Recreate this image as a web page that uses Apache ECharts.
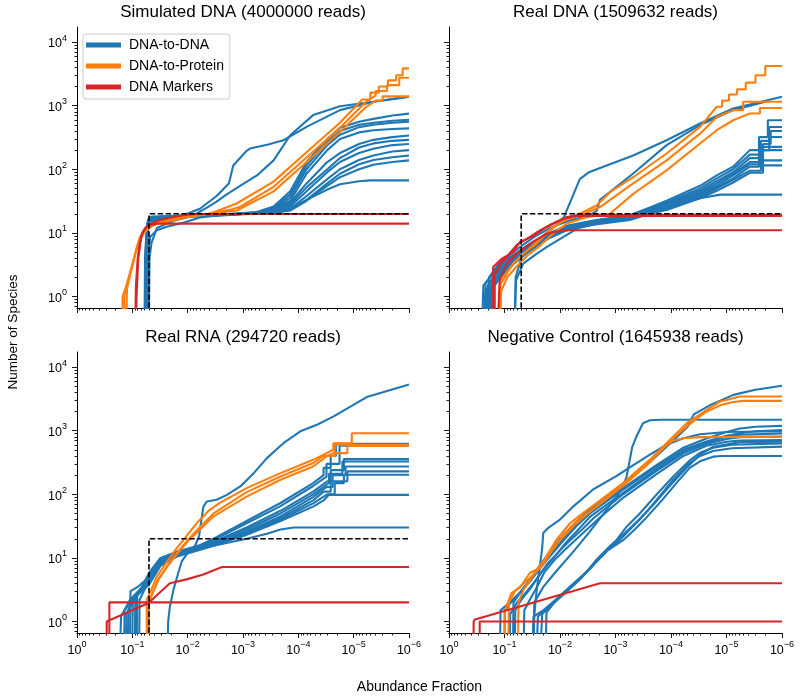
<!DOCTYPE html>
<html><head><meta charset="utf-8">
<script src="https://cdn.jsdelivr.net/npm/echarts@6/dist/echarts.min.js"></script>
<style>html,body{margin:0;padding:0;background:#fff}#c{width:800px;height:697px}</style>
</head><body><div id="c"></div>
<script>
// ---------------- DATA (abundance fraction, number of species) ----------------
const titles = ['Simulated DNA (4000000 reads)', 'Real DNA (1509632 reads)', 'Real RNA (294720 reads)', 'Negative Control (1645938 reads)'];
const xTickExp = [0, -1, -2, -3, -4, -5, -6];
const yTickExp = [0, 1, 2, 3, 4];
const seriesNames = ['DNA-to-DNA', 'DNA-to-Protein', 'DNA Markers'];

const truth = [[0.05,0.5],[0.05,20],[1e-6,20]];

// Simulated DNA
const simBlue = [
 [[0.058,0.5],[0.057,5],[0.054,12],[0.049,15],[0.03,17],[0.012,19],[0.006,24],[0.003,38],[0.0018,60],[0.0015,115],[8.6e-4,195],[7.5e-4,212],[3.5e-4,245],[1.86e-4,286],[7.1e-5,463],[1.77e-5,850],[4.4e-6,1150],[1e-6,1380]],
 [[0.06,0.5],[0.059,4],[0.056,9],[0.051,12],[0.04,14],[0.025,16.5],[0.012,18.5],[0.007,20],[0.0045,25],[0.003,31],[0.002,40],[0.00113,55],[5.6e-4,80],[2.8e-4,138],[1.4e-4,343],[5.4e-5,710],[1.77e-5,980],[4.4e-6,1150],[1e-6,1380]],
 [[0.056,0.5],[0.055,8],[0.052,16],[0.045,17.5],[0.01,18.5],[0.002,19.5],[6e-4,21],[2.8e-4,26],[1.4e-4,45],[7.1e-5,130],[3e-5,300],[1.77e-5,450],[8e-6,560],[4.4e-6,620],[2e-6,700],[1e-6,750]],
 [[0.057,0.5],[0.056,7],[0.053,15],[0.046,17],[0.01,18.3],[0.002,19.3],[6e-4,20.5],[2.8e-4,25],[1.4e-4,40],[7.1e-5,115],[3e-5,270],[1.77e-5,400],[8e-6,500],[4.4e-6,540],[2e-6,580],[1e-6,600]],
 [[0.058,0.5],[0.057,6],[0.054,14],[0.047,16.5],[0.01,18],[0.002,19],[6e-4,20.5],[2.8e-4,24],[1.4e-4,36],[7.1e-5,100],[3e-5,240],[1.77e-5,350],[8e-6,460],[4.4e-6,500],[2e-6,540],[1e-6,560]],
 [[0.055,0.5],[0.054,9],[0.051,16.5],[0.045,18],[0.01,19],[0.002,19.8],[6e-4,21],[2.8e-4,23.5],[1.4e-4,32],[7.1e-5,85],[3e-5,200],[1.77e-5,300],[8e-6,380],[4.4e-6,410],[2e-6,430],[1e-6,440]],
 [[0.056,0.5],[0.055,7],[0.052,15],[0.046,17],[0.01,18.5],[0.002,19.5],[6e-4,20.5],[2.8e-4,23],[1.4e-4,30],[7.1e-5,60],[3e-5,130],[1.77e-5,180],[8e-6,250],[4.4e-6,290],[2e-6,320],[1e-6,340]],
 [[0.057,0.5],[0.056,6],[0.053,14],[0.047,16],[0.01,18],[0.002,19.2],[6e-4,20],[2.8e-4,22],[1.4e-4,28],[7.1e-5,52],[3e-5,100],[1.77e-5,150],[8e-6,220],[4.4e-6,255],[2e-6,280],[1e-6,290]],
 [[0.055,0.5],[0.054,8],[0.051,15.5],[0.045,17.5],[0.01,18.8],[0.002,19.6],[6e-4,20.5],[2.8e-4,21.5],[1.4e-4,26],[7.1e-5,45],[3e-5,90],[1.77e-5,130],[8e-6,180],[4.4e-6,210],[2e-6,240],[1e-6,250]],
 [[0.058,0.5],[0.057,5],[0.054,12],[0.048,15],[0.025,17],[0.008,18.5],[0.002,19.5],[6e-4,20.3],[2.8e-4,21],[1.4e-4,24],[7.1e-5,38],[3e-5,70],[1.77e-5,100],[8e-6,140],[4.4e-6,165],[2e-6,190],[1e-6,200]],
 [[0.05,0.5],[0.049,4],[0.045,7],[0.036,12],[0.018,15.5],[0.008,18.5],[0.002,19.5],[6e-4,20.2],[2.8e-4,21],[1.4e-4,23],[7.1e-5,33],[3e-5,60],[1.77e-5,85],[8e-6,120],[4.4e-6,140],[2e-6,155],[1e-6,165]],
 [[0.052,0.5],[0.051,4],[0.048,8.6],[0.036,11],[0.024,12.5],[0.012,14.5],[0.006,17.5],[0.002,19.5],[6e-4,20],[2.8e-4,20.5],[1.4e-4,22.5],[7.1e-5,32],[3e-5,55],[1.77e-5,75],[8e-6,100],[4.4e-6,118],[2e-6,130],[1e-6,138]],
 [[0.054,0.5],[0.053,10],[0.05,16],[0.044,17.5],[0.01,18.7],[0.002,19.5],[6e-4,20.5],[2.8e-4,21],[1.4e-4,24],[7.1e-5,33],[3e-5,48],[1.77e-5,58],[8e-6,65],[5e-6,67],[1e-6,67]]
];
const simOrange = [
 [[0.15,0.5],[0.15,1],[0.125,1.6],[0.1,3],[0.085,5.5],[0.073,8.6],[0.06,11],[0.048,12.5],[0.035,14],[0.024,15],[0.0104,17.7],[0.004,20],[0.0013,29],[2.8e-4,64],[7.1e-5,185],[1.77e-5,540],[7e-6,1250],[5e-6,1250],[5e-6,1600],[3.5e-6,1600],[3.5e-6,2000],[2.4e-6,2000],[2.4e-6,2500],[1.7e-6,2500],[1.7e-6,3000],[1.3e-6,3000],[1.3e-6,3850],[1e-6,3850]],
 [[0.14,0.5],[0.14,1],[0.12,1.8],[0.097,3.5],[0.08,6.5],[0.068,9.5],[0.055,11.5],[0.04,13.5],[0.025,15.5],[0.012,18],[0.005,19.5],[0.0017,23],[0.0011,26],[2.8e-4,53],[7.1e-5,153],[1.77e-5,450],[6e-6,1150],[4e-6,1450],[4e-6,1700],[2.5e-6,1700],[2.5e-6,2100],[1.5e-6,2100],[1.5e-6,2750],[1e-6,2750]],
 [[0.128,0.5],[0.125,1.3],[0.11,2.2],[0.09,4.5],[0.075,7.5],[0.062,10],[0.05,12],[0.035,14.5],[0.02,17],[0.009,19],[0.004,20],[0.0013,22.5],[2.8e-4,45],[7.1e-5,130],[1.77e-5,385],[6e-6,950],[4e-6,1200],[3e-6,1200],[3e-6,1400],[1e-6,1400]]
];
const simRed = [
 [[0.085,0.5],[0.084,1],[0.078,4],[0.07,8],[0.064,10.5],[0.055,12.5],[0.045,13.5],[0.035,14],[1e-6,14]],
 [[0.088,0.5],[0.086,1.5],[0.08,4],[0.073,7],[0.066,10],[0.058,12],[0.05,13.5],[0.035,15.5],[0.02,17.5],[0.012,19],[0.007,19.8],[1e-6,19.8]]
];

// Real DNA
const dnaBlue = [
 [[0.065,0.5],[0.063,2],[0.05,4],[0.035,6],[0.02,9],[0.012,13],[0.0085,17.7],[0.0066,30],[0.0044,70],[0.003,90],[0.0019,105],[4.8e-4,165],[1.2e-4,286],[3e-5,525],[7.6e-6,900],[1e-6,1380]],
 [[0.2,0.5],[0.19,2],[0.12,3.5],[0.06,5.5],[0.03,8.5],[0.015,12],[0.007,15.5],[0.003,19],[0.0022,22],[0.0019,33],[4.8e-4,86],[1.2e-4,240],[3e-5,495],[7.6e-6,850],[2e-6,1150],[1.8e-6,1150]],
 [[0.25,0.5],[0.24,1.5],[0.16,2.3],[0.092,3.8],[0.046,5.5],[0.0175,9],[0.0076,12.5],[0.0022,15.5],[5.5e-4,19],[2.4e-4,25],[1.2e-4,32],[3e-5,55],[1.5e-5,80],[7.6e-6,110],[3.8e-6,200],[2.6e-6,200],[2.6e-6,320],[1.8e-6,320],[1.8e-6,590],[1e-6,590]],
 [[0.23,0.5],[0.22,1.6],[0.15,2.5],[0.085,4],[0.045,5.8],[0.0175,9.5],[0.0076,13],[0.0022,16],[5.5e-4,19],[2.4e-4,24],[1.2e-4,30],[3e-5,50],[1.5e-5,72],[7.6e-6,100],[3.8e-6,170],[2.4e-6,170],[2.4e-6,280],[1.7e-6,280],[1.7e-6,463],[1e-6,463]],
 [[0.21,0.5],[0.2,1.5],[0.14,2.4],[0.08,3.8],[0.043,5.5],[0.018,9],[0.008,12.5],[0.0025,15.5],[6e-4,18.5],[2.4e-4,23],[1.2e-4,29],[3e-5,46],[1.5e-5,65],[7.6e-6,90],[3.8e-6,150],[2.2e-6,150],[2.2e-6,250],[1.6e-6,250],[1.6e-6,400],[1e-6,400]],
 [[0.19,0.5],[0.185,1.4],[0.13,2.2],[0.075,3.6],[0.04,5.2],[0.017,8.8],[0.0075,12],[0.0022,15],[5.5e-4,18],[2.4e-4,22.5],[1.2e-4,28],[3e-5,43],[1.5e-5,60],[7.6e-6,85],[3.8e-6,130],[2.4e-6,130],[2.4e-6,200],[1.7e-6,200],[1.7e-6,322],[1e-6,322]],
 [[0.18,0.5],[0.175,1.3],[0.125,2.1],[0.07,3.5],[0.038,5],[0.016,8.3],[0.007,11.5],[0.002,14.5],[5.5e-4,17.5],[2.4e-4,22],[1.2e-4,26],[3e-5,41],[1.5e-5,55],[7.6e-6,80],[3.8e-6,120],[2.2e-6,120],[2.2e-6,225],[1e-6,225]],
 [[0.2,0.5],[0.19,1.2],[0.14,2],[0.08,3.3],[0.045,5],[0.018,8],[0.008,11],[0.0022,14],[5.5e-4,17],[2.4e-4,21],[1.2e-4,25],[3e-5,39],[1.5e-5,52],[7.6e-6,72],[3.8e-6,110],[2.6e-6,110],[2.6e-6,200],[1e-6,200]],
 [[0.22,0.5],[0.21,1.3],[0.15,2.1],[0.09,3.4],[0.05,5],[0.02,8],[0.009,11],[0.0025,14],[5.5e-4,16.5],[2.4e-4,20.5],[1.2e-4,24],[3e-5,37],[1.5e-5,50],[7.6e-6,68],[3.8e-6,95],[2.4e-6,95],[2.4e-6,138],[1e-6,138]],
 [[0.17,0.5],[0.165,1.3],[0.12,2],[0.07,3.2],[0.04,4.8],[0.018,7.8],[0.008,10.8],[0.0025,13.5],[5.5e-4,16],[2.4e-4,20],[1.2e-4,23],[3e-5,35],[1.5e-5,46],[7.6e-6,62],[3.8e-6,88],[2.2e-6,88],[2.2e-6,115],[1e-6,115]],
 [[0.065,0.5],[0.062,1.8],[0.046,3.3],[0.0265,4.7],[0.0175,6],[0.0088,8.6],[0.0044,12.3],[0.0015,15],[5e-4,17.5],[2.4e-4,21],[1.2e-4,26],[3e-5,35],[1.3e-5,40],[1e-6,40]]
];
const dnaOrange = [
 [[0.125,0.5],[0.122,1.5],[0.1,2],[0.07,3.3],[0.046,4.7],[0.0265,6.8],[0.0153,11],[0.0088,15.7],[0.0044,20],[0.0022,27],[0.0012,45],[4.8e-4,75],[1.2e-4,177],[3e-5,463],[1.5e-5,960],[1.2e-5,960],[1.2e-5,1200],[9e-6,1200],[9e-6,1500],[6.5e-6,1500],[6.5e-6,1800],[4.5e-6,1800],[4.5e-6,2300],[3e-6,2300],[3e-6,3000],[2e-6,3000],[2e-6,4200],[1e-6,4200]],
 [[0.12,0.5],[0.118,1.6],[0.095,2.3],[0.065,3.5],[0.042,5],[0.025,7.5],[0.015,11.5],[0.008,16],[0.0042,19],[0.0019,25.5],[4.8e-4,60],[1.2e-4,138],[3e-5,363],[1.5e-5,665],[7.6e-6,850],[5e-6,850],[5e-6,1150],[1e-6,1150]],
 [[0.118,0.5],[0.115,1.2],[0.09,2],[0.06,3],[0.04,4.3],[0.022,6.5],[0.013,10],[0.0075,14],[0.0035,17.5],[0.00126,20],[4.8e-4,41],[1.2e-4,96],[3e-5,254],[1.5e-5,411],[7.6e-6,590],[3.8e-6,754],[2.5e-6,754],[2.5e-6,920],[1e-6,920]]
];
const dnaRed = [
 [[0.16,0.5],[0.16,2.9],[0.113,3.9],[0.07,5],[0.053,7.2],[0.033,8.6],[0.0175,12.3],[0.0115,14.8],[0.0076,17.8],[0.0044,19.3],[1e-6,19.3]],
 [[0.15,0.5],[0.15,2.2],[0.12,3.2],[0.085,4.5],[0.06,6.5],[0.04,8],[0.025,10.5],[0.015,13.5],[0.009,16.5],[0.005,18.5],[1e-6,18.5]],
 [[0.13,0.5],[0.122,1.8],[0.092,3.3],[0.061,4.7],[0.035,6.8],[0.0175,9.7],[0.0088,11],[1e-6,11]]
];

// Real RNA
const rnaBlue = [
 [[0.023,0.5],[0.0225,1],[0.021,1.7],[0.018,3.2],[0.0148,5.8],[0.0128,8.8],[0.01,12],[0.0075,15],[0.0062,22],[0.006,28],[0.0052,64],[0.0045,77],[0.003,82],[0.00195,98],[0.00112,133],[6.4e-4,215],[3.7e-4,370],[1.84e-4,640],[9.2e-5,975],[4.6e-5,1240],[2.3e-5,1675],[5.8e-6,3370],[1e-6,5300]],
 [[0.1,0.5],[0.098,2],[0.075,3],[0.05,5.5],[0.031,9.5],[0.0156,12.5],[0.0059,16],[0.0034,20],[8.6e-4,38],[2.1e-4,73],[5.4e-5,150],[3.5e-5,200],[3.5e-5,260],[2.6e-5,260],[2.6e-5,400],[2.1e-5,400],[2.1e-5,620],[1e-6,620]],
 [[0.12,0.5],[0.118,1.5],[0.085,2.5],[0.05,5],[0.031,9],[0.0156,12],[0.0059,15.5],[0.0034,19],[8.6e-4,35],[2.1e-4,65],[5.4e-5,135],[3.1e-5,190],[3.1e-5,300],[1.8e-5,300],[1.8e-5,580],[1e-6,580]],
 [[0.09,0.5],[0.088,2.5],[0.07,3.2],[0.05,5.8],[0.031,10],[0.0156,12.5],[0.0059,15],[0.0034,18],[8.6e-4,30],[2.1e-4,55],[5.4e-5,110],[3e-5,160],[2.6e-5,160],[2.6e-5,240],[1.5e-5,240],[1.5e-5,357],[1e-6,357]],
 [[0.165,0.5],[0.16,1.2],[0.11,2.2],[0.05,4.5],[0.031,8.5],[0.0156,11.5],[0.0059,14.5],[0.0034,17],[8.6e-4,28],[2.1e-4,50],[5.4e-5,100],[2.8e-5,150],[2.8e-5,210],[1.6e-5,210],[1.6e-5,328],[1e-6,328]],
 [[0.13,0.5],[0.128,1.3],[0.09,2.6],[0.05,4],[0.031,8],[0.0156,11],[0.0059,14],[0.0034,16.5],[8.6e-4,26],[2.1e-4,45],[5.4e-5,90],[3.1e-5,130],[2.4e-5,130],[2.4e-5,200],[1.4e-5,200],[1.4e-5,274],[1e-6,274]],
 [[0.11,0.5],[0.108,3],[0.08,3.5],[0.05,5],[0.031,9],[0.0156,11.5],[0.0059,14],[0.0034,16],[8.6e-4,25],[2.1e-4,42],[5.4e-5,80],[3.5e-5,110],[2.6e-5,110],[2.6e-5,160],[1.3e-5,160],[1.3e-5,229],[1e-6,229]],
 [[0.14,0.5],[0.138,1.5],[0.1,2.2],[0.05,3.8],[0.031,7.5],[0.0156,10.5],[0.0059,13.5],[0.0034,15.5],[8.6e-4,24],[2.1e-4,40],[5.4e-5,72],[3e-5,100],[2.2e-5,100],[2.2e-5,150],[1.5e-5,150],[1.5e-5,203],[1e-6,203]],
 [[0.083,0.5],[0.082,2.5],[0.065,3.5],[0.05,5.5],[0.031,9.5],[0.0156,12],[0.0059,14.5],[0.0034,16],[8.6e-4,23],[2.1e-4,38],[5.4e-5,64],[3.5e-5,80],[2.8e-5,98],[1e-6,98]],
 [[0.075,0.5],[0.074,2.2],[0.06,3.2],[0.05,4.8],[0.031,8.5],[0.0156,11.5],[0.0059,14],[0.0034,15.5],[8.6e-4,20],[3.7e-4,24],[2.1e-4,28],[1.2e-4,30],[1e-6,30]]
];
const rnaOrange = [
 [[0.055,0.5],[0.055,2.2],[0.045,3.2],[0.036,5.1],[0.024,8.5],[0.016,14],[0.0105,22],[0.0069,35],[0.004,57],[0.0025,75],[8.6e-4,125],[2.1e-4,215],[5.4e-5,348],[2.33e-5,500],[2.33e-5,635],[1.08e-5,635],[1.08e-5,910],[1e-6,910]],
 [[0.052,0.5],[0.052,1.8],[0.043,2.8],[0.034,4.5],[0.023,7.5],[0.015,12],[0.0095,19],[0.0055,30],[0.0034,45],[8.6e-4,92],[2.1e-4,169],[5.4e-5,273],[3e-5,400],[2.33e-5,443],[1.3e-5,443],[1.3e-5,575],[1e-6,575]],
 [[0.05,0.5],[0.05,2],[0.042,3],[0.033,4.8],[0.022,8],[0.0145,13],[0.009,21],[0.0055,33],[0.0034,50],[8.6e-4,108],[2.1e-4,190],[5.4e-5,310],[3.5e-5,400],[2.2e-5,400],[2.2e-5,600],[1e-6,600]]
];
const rnaRed = [
 [[0.26,0.5],[0.26,2],[1e-6,2]],
 [[0.29,0.5],[0.29,1],[0.051,1.96],[0.021,4],[0.0105,4.6],[0.0052,5.5],[0.0024,7.2],[1e-6,7.2]]
];

// Negative control
const ncBlue = [
 [[0.07,0.5],[0.069,2],[0.05,3],[0.035,4.5],[0.023,7],[0.015,11],[0.01,17],[0.006,30],[0.003,55],[7.3e-4,140],[2.4e-4,320],[9.1e-5,700],[5e-5,1150],[3.9e-5,1800],[2e-5,2500],[7.5e-6,3650],[3e-6,4400],[1e-6,5070]],
 [[0.03,0.5],[0.029,2],[0.02,3.5],[0.012,6],[0.006,12],[0.003,25],[0.0015,55],[9e-4,100],[7e-4,150],[6.3e-4,190],[5.7e-4,300],[5e-4,550],[4.2e-4,807],[3.2e-4,1310],[2.4e-4,1460],[1.5e-4,1480],[1e-6,1480]],
 [[0.12,0.5],[0.118,1.5],[0.08,2],[0.053,2.8],[0.035,4.5],[0.025,7],[0.017,11],[0.01,20],[0.005,38],[0.0029,57],[7.3e-4,125],[1.8e-4,290],[6e-5,540],[2.3e-5,750],[1e-5,950],[5.7e-6,1080],[3e-6,1150],[1e-6,1190]],
 [[0.1,0.5],[0.099,1.5],[0.07,2.2],[0.05,3],[0.033,4.5],[0.024,6.5],[0.016,10],[0.009,18],[0.005,32],[0.0029,50],[7.3e-4,118],[1.8e-4,273],[6e-5,500],[2.3e-5,675],[1e-5,830],[5.7e-6,910],[3e-6,980],[1e-6,1025]],
 [[0.08,0.5],[0.079,1.3],[0.06,2],[0.045,2.6],[0.03,4],[0.02,6.5],[0.013,10],[0.008,17],[0.0045,29],[0.0029,44],[7.3e-4,105],[1.8e-4,250],[6e-5,470],[2.3e-5,650],[1e-5,800],[5.7e-6,860],[1e-6,905]],
 [[0.065,0.5],[0.064,1.5],[0.05,2.2],[0.035,3.2],[0.025,5],[0.017,8],[0.011,12],[0.007,18],[0.004,28],[0.0025,42],[7.3e-4,100],[1.8e-4,235],[6e-5,440],[2.3e-5,620],[1e-5,740],[5.7e-6,790],[1e-6,805]],
 [[0.045,0.5],[0.044,1.5],[0.035,2.2],[0.026,3.5],[0.019,6],[0.013,9],[0.0085,13],[0.005,20],[0.003,30],[0.0018,45],[7.3e-4,88],[1.8e-4,210],[6e-5,400],[2.3e-5,580],[1e-5,670],[5.7e-6,700],[1e-6,713]],
 [[0.03,0.5],[0.029,1.3],[0.027,2.5],[0.025,4.5],[0.023,7.4],[0.021,14],[0.02,24.7],[0.016,30],[0.01,40],[0.0058,64],[0.0025,120],[0.001,190],[5e-4,280],[2.4e-4,420],[1.2e-4,600],[6e-5,760],[3e-5,880],[1e-5,950],[1e-6,980]],
 [[0.031,0.5],[0.03,1.2],[0.02,1.5],[0.012,2.2],[0.006,3.8],[0.003,6.5],[0.0018,11],[9.6e-4,19],[6.3e-4,31],[3.65e-4,50],[1.8e-4,100],[9.1e-5,190],[4.6e-5,340],[3e-5,450],[1.74e-5,540],[8e-6,600],[1e-6,630]],
 [[0.026,0.5],[0.025,1.2],[0.017,1.6],[0.0105,2.4],[0.0055,4],[0.0028,7],[0.0016,12],[8.5e-4,19],[5.5e-4,28],[3.65e-4,40],[1.8e-4,82],[9.1e-5,169],[4.6e-5,310],[3e-5,400],[1.74e-5,480],[8e-6,530],[1e-6,560]],
 [[0.022,0.5],[0.021,1.3],[0.015,1.8],[0.009,2.6],[0.0045,4.5],[0.0024,8],[0.0014,13],[7.3e-4,19],[4.5e-4,28],[3e-4,40],[1.5e-4,78],[8e-5,150],[4.6e-5,260],[3e-5,330],[1.74e-5,390],[1.2e-5,400],[1e-6,400]],
 [[0.018,0.5],[0.0175,1.4],[0.0125,2],[0.0075,3],[0.004,5],[0.0022,9.4],[0.0012,16],[7e-4,24],[4e-4,38],[2.2e-4,65],[1.1e-4,130],[5.5e-5,250],[3e-5,420],[1.74e-5,560],[5.7e-6,660],[1e-6,670]]
];
const ncOrange = [
 [[0.099,0.5],[0.098,1.5],[0.075,2.8],[0.053,3.4],[0.035,5.8],[0.023,7],[0.0175,10.6],[0.0116,19.3],[0.0066,35],[0.0038,51],[0.0022,73],[7.3e-4,150],[2.4e-4,350],[9.1e-5,807],[5.2e-5,1310],[2.3e-5,2100],[1.3e-5,2870],[5.7e-6,3440],[1e-6,3440]],
 [[0.085,0.5],[0.083,2],[0.065,3],[0.045,4],[0.03,5.5],[0.02,8],[0.014,13],[0.009,22],[0.005,38],[0.0028,55],[7.3e-4,140],[2.4e-4,330],[9.1e-5,760],[5e-5,1200],[2.5e-5,1900],[1.3e-5,2500],[8e-6,2800],[5e-6,2940],[1e-6,2940]],
 [[0.057,0.5],[0.056,2],[0.045,3.2],[0.032,5],[0.022,8],[0.015,12],[0.01,19],[0.0055,33],[0.003,52],[7.3e-4,135],[2.4e-4,320],[1.3e-4,560],[9e-5,700],[6e-5,760],[3e-5,790],[1e-6,800]]
];
const ncRed = [
 [[0.28,0.5],[0.28,1],[1e-6,1]],
 [[0.36,0.5],[0.36,1],[0.34,1.08],[0.0019,4],[1e-6,4]]
];

const panelData = [
  {blue: simBlue, orange: simOrange, red: simRed, truth: truth},
  {blue: dnaBlue, orange: dnaOrange, red: dnaRed, truth: truth},
  {blue: rnaBlue, orange: rnaOrange, red: rnaRed, truth: truth},
  {blue: ncBlue, orange: ncOrange, red: ncRed, truth: null}
];

// ---------------- LAYOUT / STYLE ----------------
const F = "'Liberation Sans', Arial, Helvetica, sans-serif";
const colors = ['#1f77b4', '#ff7f0e', '#d62728'];
const grids = [
  {left: 77, top: 27, width: 332, height: 281},
  {left: 449, top: 27, width: 333, height: 281},
  {left: 77, top: 352, width: 332, height: 281},
  {left: 449, top: 352, width: 333, height: 281}
];
const Y_MIN = -0.18, Y_MAX = 4.236;

const minorX = [], minorY = [];
for (let e = -6; e <= -1; e++) for (let k = 2; k <= 9; k++) minorX.push(e + Math.log10(k));
for (let e = -1; e <= 4; e++) for (let k = 2; k <= 9; k++) { const v = e + Math.log10(k); if (v >= Y_MIN && v <= Y_MAX) minorY.push(v); }

function expLabel(v) { const e = Math.round(v); return '{b|10}{s|' + (e < 0 ? '\u2212' + (-e) : e) + '}'; }
const rich = {
  b: {fontSize: 12.5, fontFamily: F, color: '#000', lineHeight: 17, verticalAlign: 'bottom'},
  s: {fontSize: 9, fontFamily: F, color: '#000', lineHeight: 10, verticalAlign: 'top'}
};
const tickStyle = {color: '#000', width: 0.9};

const xAxes = [], yAxes = [], series = [];
grids.forEach((g, gi) => {
  const bottomRow = gi >= 2, leftCol = gi % 2 === 0;
  xAxes.push({type: 'value', gridIndex: gi, position: 'bottom', min: -6, max: 0, inverse: true,
    axisLine: {show: true, onZero: false, lineStyle: {color: '#000', width: 1}},
    axisTick: {show: true, length: 5, customValues: xTickExp, lineStyle: tickStyle},
    axisLabel: {show: bottomRow, customValues: xTickExp, formatter: expLabel, rich: rich, margin: 7},
    splitLine: {show: false}});
  xAxes.push({type: 'value', gridIndex: gi, position: 'bottom', min: -6, max: 0, inverse: true,
    axisLine: {show: false, onZero: false},
    axisTick: {show: true, length: 2.5, customValues: minorX, lineStyle: tickStyle},
    axisLabel: {show: false}, splitLine: {show: false}});
  yAxes.push({type: 'value', gridIndex: gi, position: 'left', min: Y_MIN, max: Y_MAX,
    axisLine: {show: true, onZero: false, lineStyle: {color: '#000', width: 1}},
    axisTick: {show: true, length: 5, customValues: yTickExp, lineStyle: tickStyle},
    axisLabel: {show: leftCol, customValues: yTickExp, formatter: expLabel, rich: rich, margin: 10},
    splitLine: {show: false}});
  yAxes.push({type: 'value', gridIndex: gi, position: 'left', min: Y_MIN, max: Y_MAX,
    axisLine: {show: false, onZero: false},
    axisTick: {show: true, length: 2.5, customValues: minorY, lineStyle: tickStyle},
    axisLabel: {show: false}, splitLine: {show: false}});

  const pd = panelData[gi];
  const groups = [pd.blue, pd.orange, pd.red];
  groups.forEach((lines, k) => {
    lines.forEach(pts => {
      series.push({type: 'line', name: seriesNames[k], xAxisIndex: 2 * gi, yAxisIndex: 2 * gi,
        data: pts.map(p => [Math.log10(p[0]), Math.log10(p[1])]),
        showSymbol: false, symbol: 'none', color: colors[k], itemStyle: {color: colors[k]},
        lineStyle: {color: colors[k], width: 2.1}, z: 2 + k, silent: true, clip: true, animation: false});
    });
  });
  if (pd.truth) {
    series.push({type: 'line', name: 'truth', xAxisIndex: 2 * gi, yAxisIndex: 2 * gi,
      data: pd.truth.map(p => [Math.log10(p[0]), Math.log10(p[1])]),
      showSymbol: false, symbol: 'none', color: '#000',
      lineStyle: {color: '#000', width: 1.6, type: [5.5, 2.4]}, z: 6, silent: true, clip: true, animation: false});
  }
});

const graphics = grids.map((g, i) => ({type: 'text', x: g.left + g.width / 2, y: g.top - 15,
  style: {text: titles[i], fontSize: 17, fontFamily: F, fill: '#000', align: 'center', verticalAlign: 'middle'}}));
graphics.push({type: 'text', x: 13, y: 332, rotation: Math.PI / 2,
  style: {text: 'Number of Species', fontSize: 13.5, fontFamily: F, fill: '#000', align: 'center', verticalAlign: 'middle'}});
graphics.push({type: 'text', x: 419.5, y: 687,
  style: {text: 'Abundance Fraction', fontSize: 14, fontFamily: F, fill: '#000', align: 'center', verticalAlign: 'middle'}});

const chart = echarts.init(document.getElementById('c'), null, {renderer: 'canvas'});
chart.setOption({
  backgroundColor: '#fff',
  animation: false,
  grid: grids,
  xAxis: xAxes,
  yAxis: yAxes,
  legend: {data: seriesNames.map(n => ({name: n, icon: 'rect'})), orient: 'vertical', left: 83, top: 34,
    itemWidth: 35, itemHeight: 5, itemGap: 7, padding: [4, 6, 5, 3],
    textStyle: {fontSize: 14, fontFamily: F, color: '#000', padding: [0, 0, 0, 3]},
    borderColor: '#cccccc', borderWidth: 1, borderRadius: 3, backgroundColor: 'rgba(255,255,255,0.8)',
    selectedMode: false},
  graphic: graphics,
  series: series
});
</script>
</body></html>
